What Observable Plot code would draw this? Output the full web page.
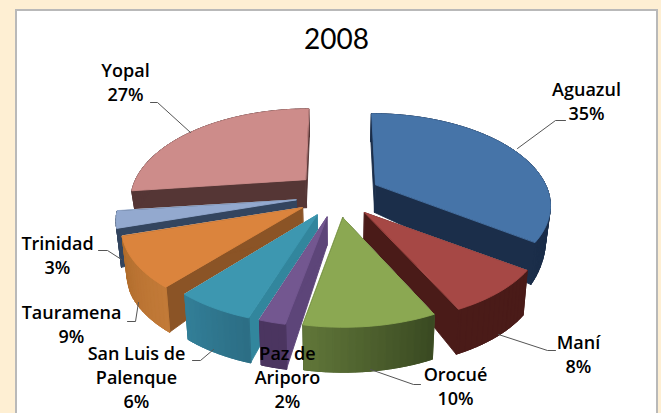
<!DOCTYPE html>
<html><head><meta charset="utf-8">
<script src="https://cdn.jsdelivr.net/npm/d3@7"></script>
<script src="https://cdn.jsdelivr.net/npm/@observablehq/plot@0.6"></script>
<style>html,body{margin:0;padding:0;background:#FEEFD3;overflow:hidden}svg{display:block;background:transparent}</style>
</head><body><div id="chart"></div>
<script>
const title = "2008";
const names = ["Aguazul","Maní","Orocué","Paz de\nAriporo","San Luis de\nPalenque","Tauramena","Trinidad","Yopal"];
const shares = [35,8,10,2,6,9,3,27];
const topColors = ["#4674A8","#A64845","#8BA852","#735790","#3D97B0","#DB843D","#93A9CF","#CD8C8A"];
const arcWallFrom = ["#1B2E4A","#4A1B18","#3A4A22","#4B3560","#2C6E85","#C27A38","#33455F","#553635"];
const arcWallTo   = ["#1B2E4A","#4A1B18","#62783A","#4B3560","#338099","#B06C2C","#33455F","#553635"];
const sideWall = ["#1B2E4A","#4A1B18","#3A4A22","#5D4579","#32869D","#8B5426","#33455F","#553635"];
const paintOrder = [7,0,6,5,1,4,3,2];
// placement of labels and leader lines
const labelX = [586,578,455,287,136,71,57,125];
const labelY = [100,353,385,376,376,323,254,81];
const rimShift = [-1,3,1,0,0,-5,-4,1];
const leaders = [
  [[565,120],[555,120],[517,148]],
  [[498,334],[547,350],[555,350]],
  [[370,369],[413,384],[420,384]],
  [],
  [[192,360],[200,360],[213,349]],
  [[127,321],[135,321],[138,302]],
  [[98,250],[107,250],[121,259]],
  [[150,102],[157,102],[190,132]]
];
// pie projection
const cx=337, cy=194.4, ex=42.6, ey=23, A=171, a=86, b=0.215;
const rad = d=>d*Math.PI/180;
let acc=0;
const slices = shares.map((s,i)=>{const start=acc; acc+=s*3.6; const end=acc; const mid=(start+end)/2;
  return {i,start,end,ax:cx+ex*Math.sin(rad(mid)),ay:cy-ey*Math.cos(rad(mid)),eY:-Math.cos(rad(mid))*0.25};});
function rim(sl,t){const X=Math.sin(rad(t)),Y=-Math.cos(rad(t)),k=1-b*Y;
  const x=cx+(sl.ax-cx)*(1+0.1*Y)+A*X/k+rimShift[sl.i]*Math.abs(X),y=sl.ay+a*Y/k;return lower(x,y,Y+sl.eY);}
function lower(x,y,Y){const h=Math.min(45,28+30*Math.max(0,Y));
  return {x,y,bx:x-(x-cx)*0.022,by:y+h};}
function apex(sl){return lower(sl.ax,sl.ay,0);}
const rows=[]; let n=0;
function poly(pts,fill){const id=n++;for(const p of pts)rows.push({id,x:p[0],y:p[1],fill});}
for(const i of paintOrder){
  const sl=slices[i], ap=apex(sl), st=2;
  const ts=[];for(let t=sl.start;t<sl.end;t+=st)ts.push(t);ts.push(sl.end);
  const rs=ts.map(t=>rim(sl,t));
  // white halo
  poly([[ap.x,ap.y],...rs.map(r=>[r.x,r.y])],"#ffffff");
  poly([[ap.bx,ap.by],...rs.map(r=>[r.bx,r.by])],"#ffffff");
  // radial walls
  for(const r of [rs[0],rs[rs.length-1]])
    poly([[ap.x,ap.y],[r.x,r.y],[r.bx,r.by],[ap.bx,ap.by]],sideWall[i]);
  // outer wall: solid base, then shaded bands
  const mix=d3.interpolateRgb(arcWallFrom[i],arcWallTo[i]);
  poly([...rs.map(r=>[r.x,r.y]),...rs.slice().reverse().map(r=>[r.bx,r.by])],d3.color(mix(0.5)).formatHex());
  for(let j=0;j<rs.length-1;j++){const r=rs[j],q=rs[j+1];
    poly([[r.x,r.y],[q.x,q.y],[q.bx,q.by],[r.bx,r.by]],d3.color(mix(j/(rs.length-1))).formatHex());}
  // top
  poly([[ap.x,ap.y],...rs.map(r=>[r.x,r.y])],topColors[i]);
}
const leaderRows=leaders.flatMap((l,i)=>l.map(p=>({i,x:p[0],y:p[1]})));
const labels=names.map((nm,i)=>({text:`${nm}\n${shares[i]}%`,x:labelX[i],y:labelY[i]}));
const chart=Plot.plot({
  width:661,height:413,margin:0,
  x:{domain:[0,661],range:[0,661],axis:null},
  y:{domain:[0,413],range:[0,413],axis:null},
  color:{type:"identity"},
  style:{background:"transparent"},
  marks:[
    Plot.rect([{}],{x1:()=>16,x2:()=>657,y1:()=>10,y2:()=>430,fill:"#fff",stroke:"#B9B9B9",strokeWidth:2}),
    Plot.line(rows,{x:"x",y:"y",z:"id",fill:"fill",stroke:"fill",strokeWidth:0.9,curve:"linear-closed"}),
    Plot.line(leaderRows,{x:"x",y:"y",z:"i",stroke:"#555",strokeWidth:1}),
    Plot.text(labels,{x:"x",y:"y",text:"text",fontFamily:"Open Sans",fontWeight:600,fontSize:18,lineHeight:1.333,fill:"#000",lineAnchor:"middle"}),
    Plot.text([title],{x:()=>336,y:()=>40,text:d=>d,fontFamily:"Lato",fontSize:28,fill:"#000"})
  ]
});
document.getElementById("chart").append(chart);
</script></body></html>
